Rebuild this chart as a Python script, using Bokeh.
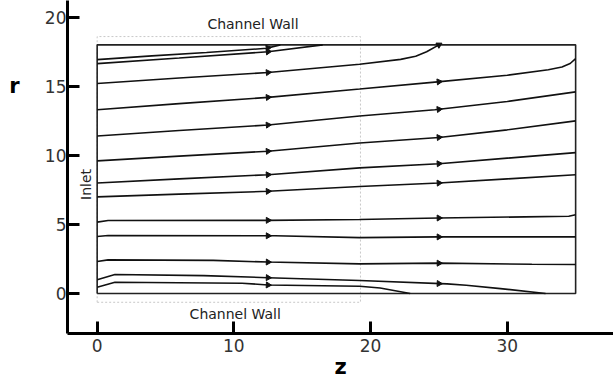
import numpy as np
from bokeh.plotting import figure
from bokeh.models import Range1d, FixedTicker, Label, ColumnDataSource, LinearAxis
from bokeh.embed import file_html
from bokeh.resources import INLINE

# ---- data ----
x_ticks = [0, 10, 20, 30]
y_ticks = [0, 5, 10, 15, 20]
r_label_at = [15]

channel_z = [0, 35, 35, 0, 0]
channel_r = [0, 0, 18, 18, 0]

box_z = [0, 19.26, 19.26, 0, 0]
box_r = [-0.63, -0.63, 18.6, 18.6, -0.63]

A_z = [0, 4, 8, 12.4, 13.4]
A_r = [16.93, 17.2, 17.45, 17.75, 18.0]
B_z = [0, 6, 12.5, 16.5]
B_r = [16.64, 17.05, 17.5, 18.0]
C_z = [0, 6, 12.5, 19.2, 22.2, 23.3, 24.1, 25.0]
C_r = [15.2, 15.6, 16.0, 16.6, 16.95, 17.18, 17.5, 18.0]
D_z = [0, 6, 12.5, 19.2, 24.7, 30, 33, 34.0, 34.6, 35]
D_r = [13.3, 13.75, 14.2, 14.8, 15.3, 15.8, 16.2, 16.4, 16.65, 17.0]
E_z = [0, 6, 12.5, 19.2, 24.7, 30, 35]
E_r = [11.4, 11.8, 12.2, 12.85, 13.3, 13.9, 14.6]
F_z = [0, 6, 12.5, 19.2, 25, 30, 35]
F_r = [9.6, 9.95, 10.3, 10.9, 11.3, 11.85, 12.5]
G_z = [0, 6, 12.5, 19.2, 25, 30, 35]
G_r = [8.0, 8.3, 8.6, 9.1, 9.4, 9.8, 10.2]
H_z = [0, 6, 12.5, 19.2, 25, 30, 35]
H_r = [7.0, 7.2, 7.4, 7.75, 8.0, 8.3, 8.6]
I_z = [0, 0.8, 12.5, 19.2, 22, 25, 31.3, 34.5, 35]
I_r = [5.17, 5.29, 5.3, 5.36, 5.42, 5.47, 5.55, 5.6, 5.7]
J_z = [0, 0.8, 13, 19.2, 25, 35]
J_r = [4.13, 4.2, 4.18, 4.05, 4.1, 4.1]
K_z = [0, 0.8, 8.5, 12.5, 19.2, 25, 31.8, 35]
K_r = [2.32, 2.44, 2.4, 2.28, 2.15, 2.2, 2.12, 2.1]
L_z = [0, 1.3, 7.8, 12.5, 19.2, 25.6, 27, 29.5, 32.8]
L_r = [1.0, 1.38, 1.3, 1.15, 0.95, 0.7, 0.6, 0.36, 0.0]
M_z = [0, 1.3, 10.6, 12.5, 19.2, 20.7, 22.9]
M_r = [0.46, 0.82, 0.75, 0.62, 0.53, 0.4, 0.0]

streamlines = [(A_z, A_r), (B_z, B_r), (C_z, C_r), (D_z, D_r), (E_z, E_r),
               (F_z, F_r), (G_z, G_r), (H_z, H_r), (I_z, I_r), (J_z, J_r),
               (K_z, K_r), (L_z, L_r), (M_z, M_r)]
arrow_z = [12.5, 25.0]

# ---- figure ----
p = figure(width=613, height=382, output_backend="svg", toolbar_location=None,
           x_range=Range1d(-2.17, 37.77), y_range=Range1d(-2.89, 21.21),
           min_border_left=67, min_border_right=0, min_border_top=0,
           min_border_bottom=49)
p.outline_line_color = None
p.xgrid.visible = False
p.ygrid.visible = False
p.background_fill_color = "white"

for ax in (p.xaxis[0], p.yaxis[0]):
    ax.axis_line_width = 3
    ax.axis_line_color = "black"
    ax.major_tick_in = 12
    ax.major_tick_out = 0
    ax.major_tick_line_width = 3
    ax.major_tick_line_color = "black"
    ax.minor_tick_line_color = None
    ax.major_label_text_font = "DejaVu Sans"
    ax.major_label_text_font_size = "17px"
    ax.major_label_text_color = "#333333"
p.xaxis[0].ticker = FixedTicker(ticks=x_ticks)
p.yaxis[0].ticker = FixedTicker(ticks=y_ticks)
p.xaxis[0].major_label_standoff = 5
p.yaxis[0].major_label_standoff = 1
p.xaxis[0].axis_label = "z"
p.xaxis[0].axis_label_standoff = 0
p.xaxis[0].axis_label_text_font = "DejaVu Sans"
p.xaxis[0].axis_label_text_font_size = "21px"
p.xaxis[0].axis_label_text_font_style = "bold"
p.xaxis[0].axis_label_text_color = "black"

# "r" label as an outer left axis label at r = 15
r_axis = LinearAxis(ticker=FixedTicker(ticks=r_label_at),
                    major_label_overrides={15: "r"},
                    axis_line_color=None, major_tick_line_color=None,
                    minor_tick_line_color=None, major_label_standoff=16,
                    major_label_text_font="DejaVu Sans",
                    major_label_text_font_size="21px",
                    major_label_text_font_style="bold",
                    major_label_text_color="black")
p.add_layout(r_axis, "left")

# dotted inlet box
p.line(box_z, box_r, line_color="#c8c8c8", line_width=1, line_dash="2 2")
# channel boundary
p.line(channel_z, channel_r, line_color="#222222", line_width=1.6)

# streamlines
az_list, ar_list, ang_list = [], [], []
k = 13.83 / 13.67
for zs, rs in streamlines:
    p.line(zs, rs, line_color="#111111", line_width=1.6)
    for a in arrow_z:
        if a <= zs[-1]:
            r0 = float(np.interp(a, zs, rs))
            hi = min(a + 0.3, zs[-1])
            lo = max(a - 0.3, 0)
            slope = (float(np.interp(hi, zs, rs)) - float(np.interp(lo, zs, rs))) / (hi - lo) * k
            az_list.append(a)
            ar_list.append(r0)
            ang_list.append(np.arctan(slope) - np.pi / 2)
src = ColumnDataSource(dict(z=az_list, r=ar_list, ang=ang_list))
p.scatter("z", "r", source=src, marker="triangle", size=6, angle="ang",
          fill_color="#111111", line_color="#111111")

# text annotations
p.add_layout(Label(x=11.4, y=19.5, text="Channel Wall", text_font="DejaVu Sans",
                   text_font_size="14px", text_align="center", text_baseline="middle",
                   text_color="#222222"))
p.add_layout(Label(x=10.1, y=-1.5, text="Channel Wall", text_font="DejaVu Sans",
                   text_font_size="14px", text_align="center", text_baseline="middle",
                   text_color="#222222"))
p.add_layout(Label(x=-0.85, y=7.9, text="Inlet", text_font="DejaVu Sans",
                   text_font_size="14px", text_align="center", text_baseline="middle",
                   angle=np.pi / 2, text_color="#222222"))

open("out.html", "w").write(file_html(p, INLINE))
